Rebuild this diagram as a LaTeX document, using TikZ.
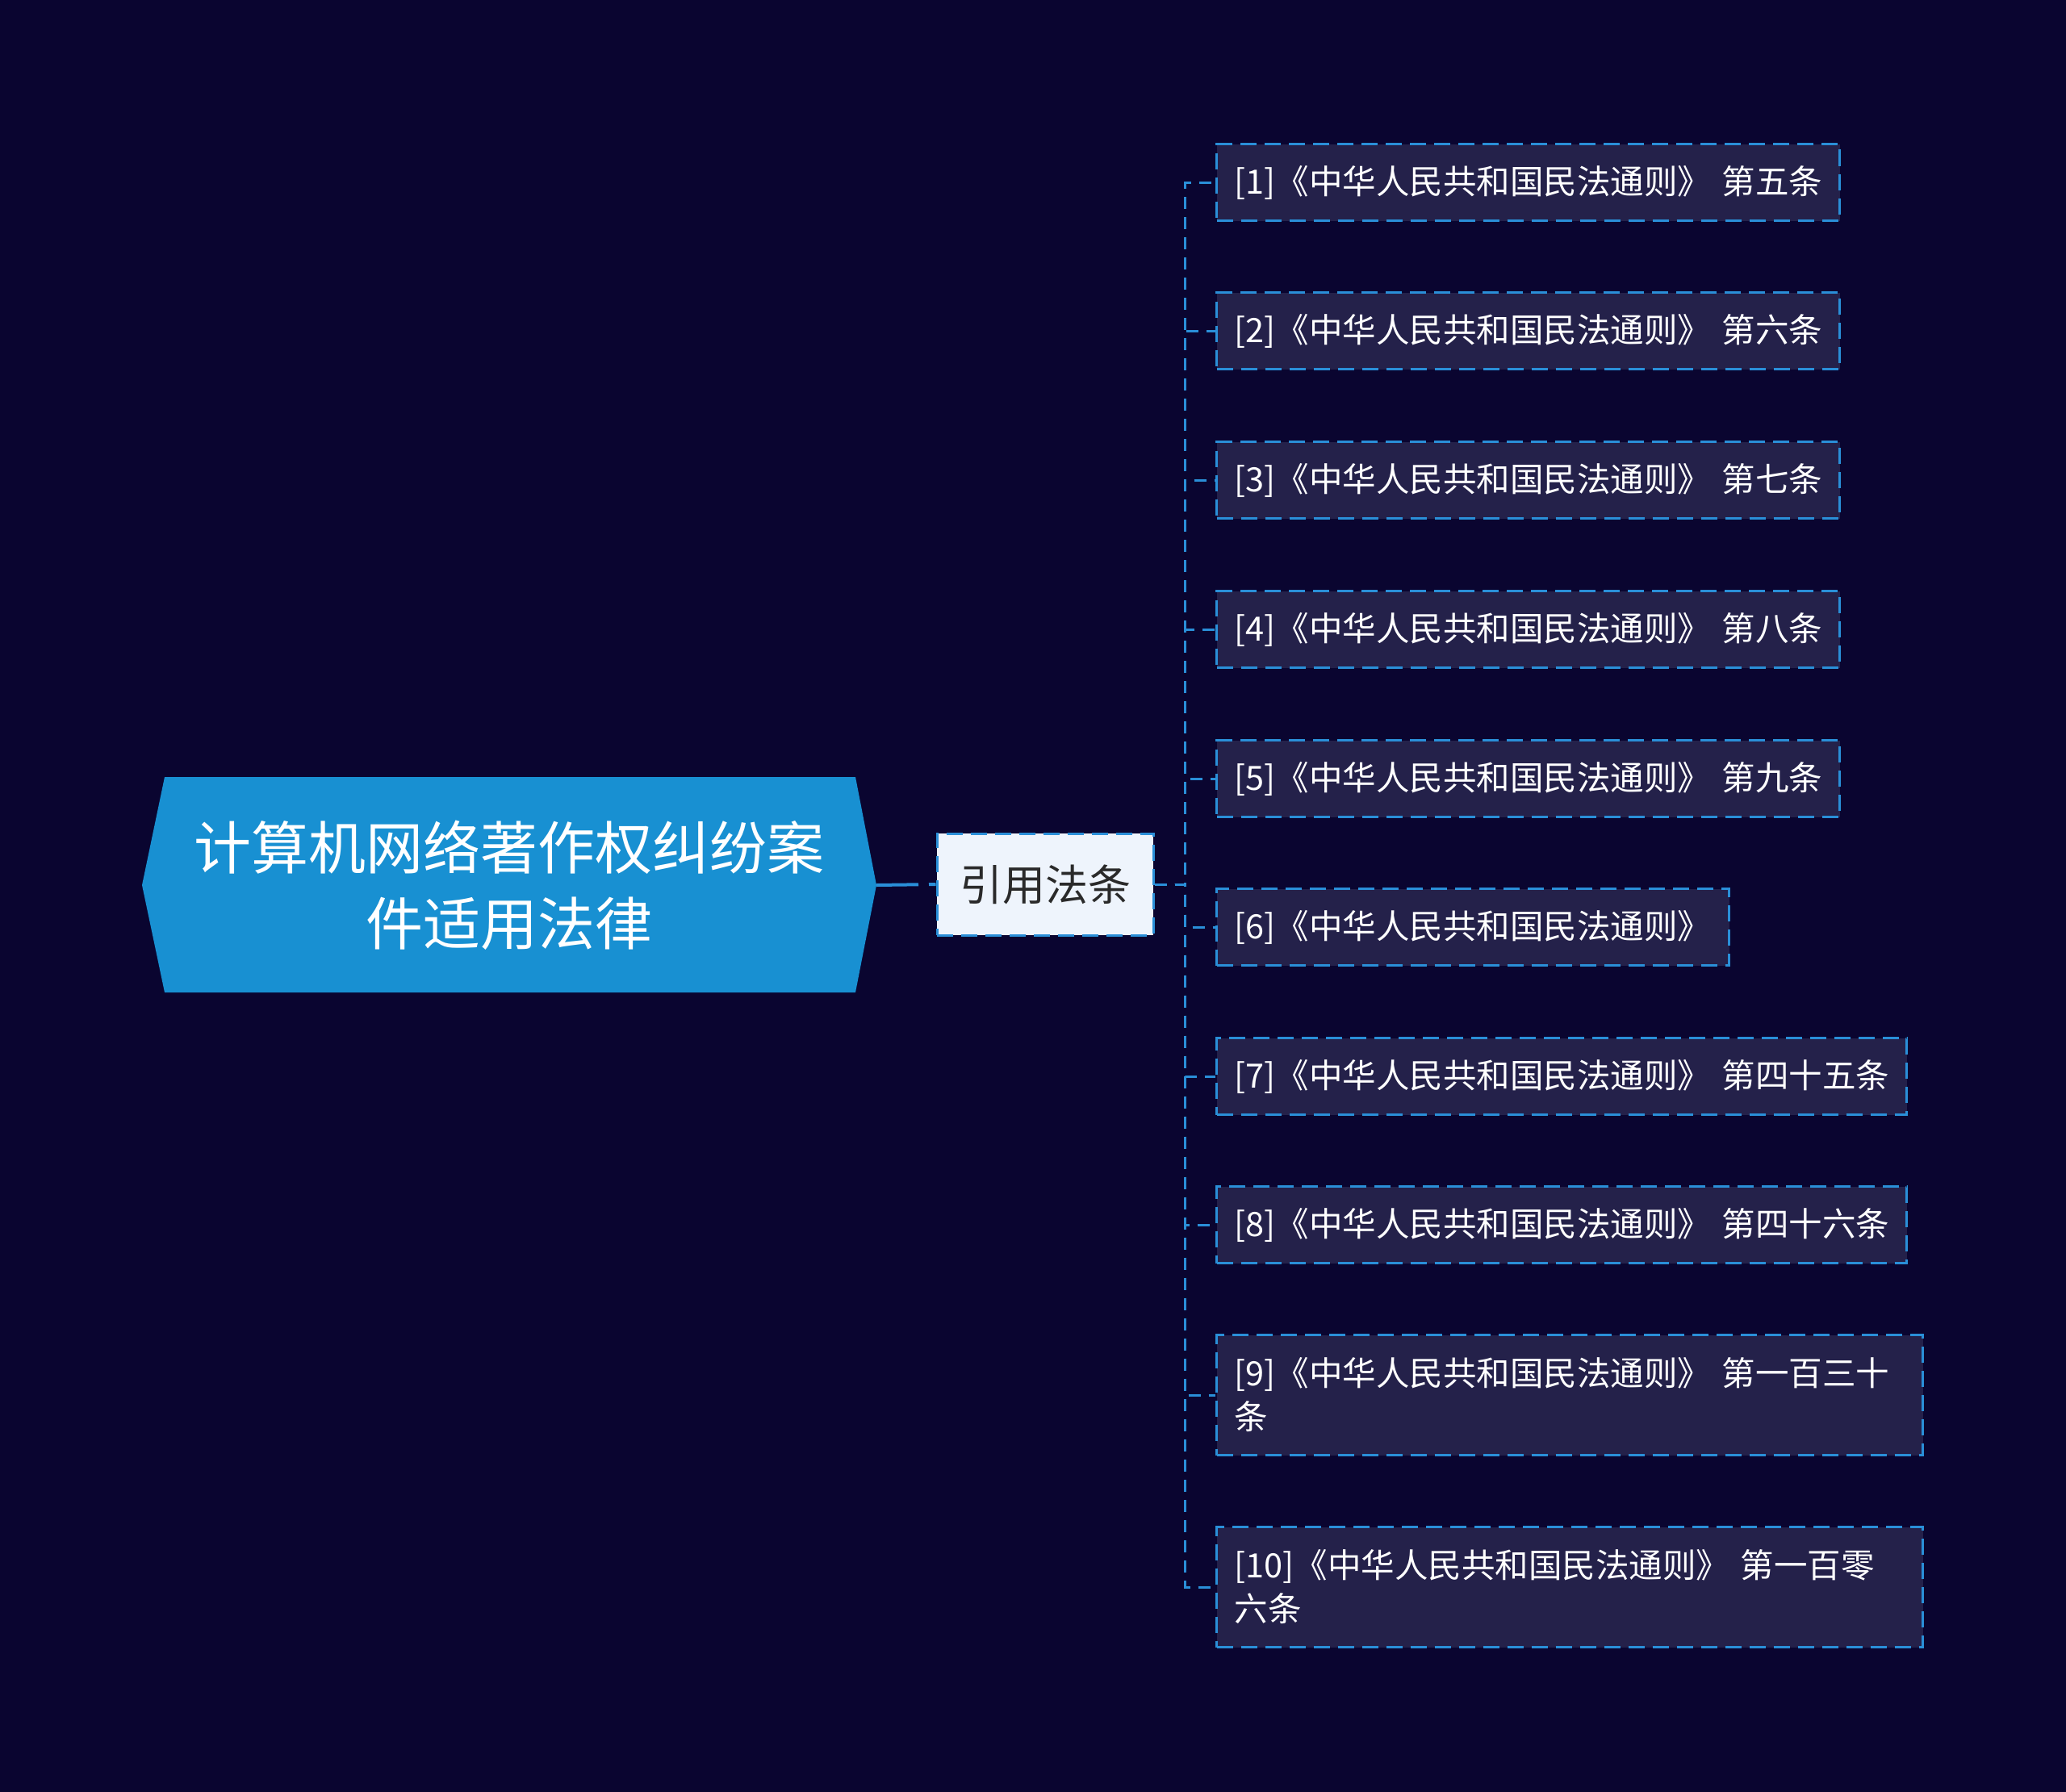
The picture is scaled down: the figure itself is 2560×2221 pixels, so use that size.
\documentclass[tikz,border=0pt]{standalone}
\usepackage{fontspec}
\setmainfont{Noto Sans CJK SC}
\definecolor{bg}{HTML}{0A0530}
\definecolor{rootblue}{HTML}{1890D2}
\definecolor{leaffill}{HTML}{24214A}
\definecolor{lineblue}{HTML}{2A8FD8}
\definecolor{midfill}{HTML}{EEF4FC}
\definecolor{midtext}{HTML}{2A2A2A}
\tikzset{
  leafbox/.style={draw=lineblue, line width=3pt, dash pattern=on 20pt off 10pt,
    fill=leaffill, text=white, anchor=west, inner xsep=22pt, inner ysep=0pt,
    align=left, font=\fontsize{41.5}{54}\selectfont},
  conn/.style={draw=lineblue, line width=3pt, dash pattern=on 15pt off 10pt},
}
\begin{document}
\begin{tikzpicture}[x=1pt,y=-1pt]
\useasboundingbox (0,0) rectangle (2560,2221);
\fill[bg] (0,0) rectangle (2560,2221);
% root
\fill[rootblue] (176,1097) -- (204,963) -- (1060,963) -- (1086,1097) -- (1060,1230) -- (204,1230) -- cycle;
\coordinate (rootR) at (1086,1097);
\node[text=white, align=center, font=\fontsize{71}{94}\selectfont] (root) at (631,1097)
  {计算机网络著作权纠纷案\\件适用法律};
% middle
\node[draw=lineblue, line width=3pt, dash pattern=on 20pt off 10pt, fill=midfill,
  minimum width=268pt, minimum height=126pt, inner sep=0pt, text=midtext,
  font=\fontsize{53}{60}\selectfont] (mid) at (1295,1096) {引用法条};
\draw[draw=lineblue, line width=4pt, dash pattern=on 52pt off 13pt on 12pt off 10pt] (rootR) -- (mid.west);
% leaves
\node[leafbox, text width=728pt, minimum height=95pt] (l1) at (1506,226) {[1]《中华人民共和国民法通则》~第五条};
\node[leafbox, text width=728pt, minimum height=95pt] (l2) at (1506,410) {[2]《中华人民共和国民法通则》~第六条};
\node[leafbox, text width=728pt, minimum height=95pt] (l3) at (1506,595) {[3]《中华人民共和国民法通则》~第七条};
\node[leafbox, text width=728pt, minimum height=95pt] (l4) at (1506,780) {[4]《中华人民共和国民法通则》~第八条};
\node[leafbox, text width=728pt, minimum height=95pt] (l5) at (1506,965) {[5]《中华人民共和国民法通则》~第九条};
\node[leafbox, text width=591pt, minimum height=95pt] (l6) at (1506,1149) {[6]《中华人民共和国民法通则》};
\node[leafbox, text width=811pt, minimum height=95pt] (l7) at (1506,1334) {[7]《中华人民共和国民法通则》~第四十五条};
\node[leafbox, text width=811pt, minimum height=95pt] (l8) at (1506,1518) {[8]《中华人民共和国民法通则》~第四十六条};
\node[leafbox, text width=831pt, minimum height=149pt] (l9) at (1506,1729) {[9]《中华人民共和国民法通则》~第一百三十\\条};
\node[leafbox, text width=831pt, minimum height=149pt] (l10) at (1506,1967) {[10]《中华人民共和国民法通则》~第一百零\\六条};
\coordinate (trunk) at (1468,1096);
\foreach \n in {l1,l2,l3,l4,l5,l6,l7,l8,l9,l10}{
  \draw[conn] (mid.east) -- (trunk) |- (\n.west);
}
\end{tikzpicture}
\end{document}
